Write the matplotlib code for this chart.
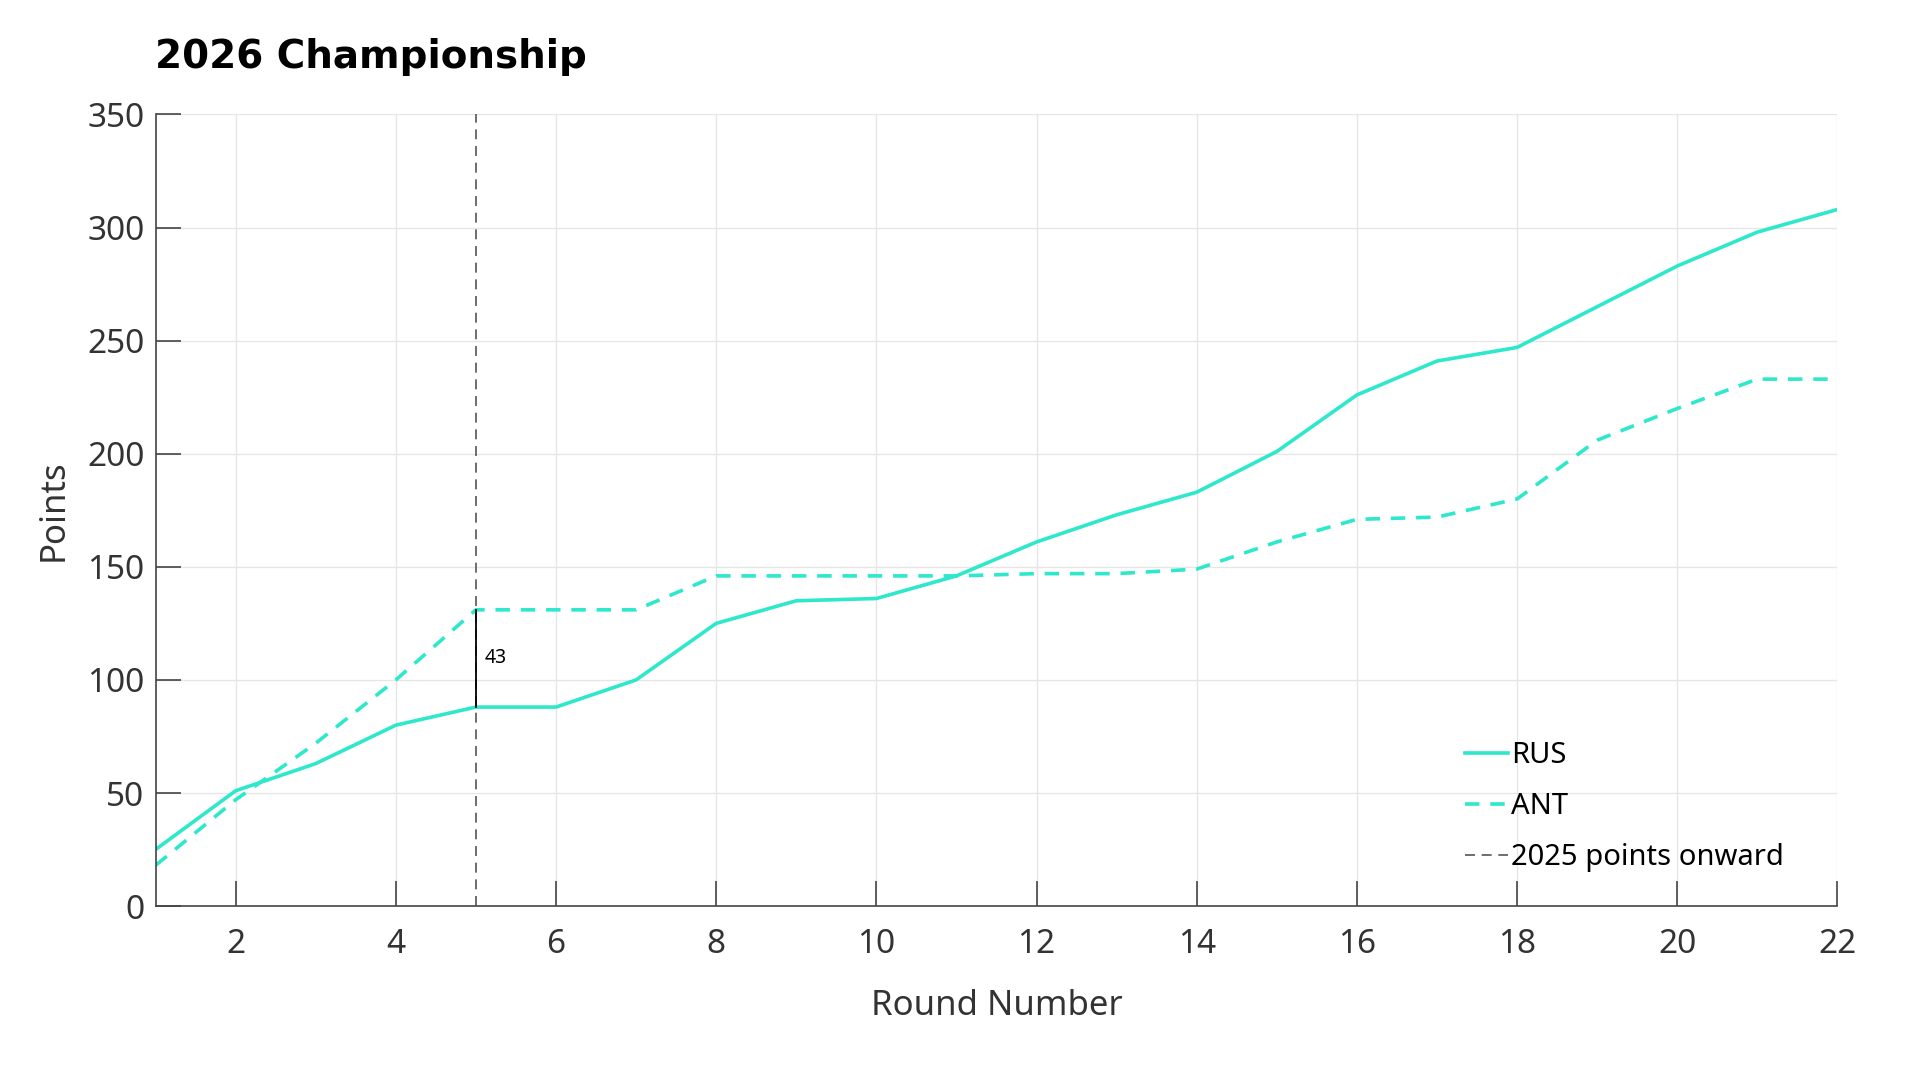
import numpy as np
import matplotlib
matplotlib.use("Agg")
import matplotlib.pyplot as plt

# cumulative points per round
rounds = list(range(1, 23))
rus_points = [25, 51, 63, 80, 88, 88, 100, 125, 135, 136, 146, 161, 173, 183,
              201, 226, 241, 247, 265, 283, 298, 308]
ant_points = [18, 47, 72, 100, 131, 131, 131, 146, 146, 146, 146, 147, 147, 149,
              161, 171, 172, 180, 206, 220, 233, 233]
marker_round = 5
team_color = "#2de8cb"

plt.rcParams['font.family'] = ['Noto Sans', 'DejaVu Sans']

fig = plt.figure(figsize=(19.2, 10.8), dpi=100)
ax = fig.add_axes([0.081, 0.161, 0.876, 0.733])

ax.plot(rounds, rus_points, color=team_color, lw=2.6, label="RUS")
ax.plot(rounds, ant_points, color=team_color, lw=2.6, ls=(0, (4, 3)), label="ANT")
ax.axvline(marker_round, color="#555555", lw=1.2, ls=(0, (6, 4)), label="2025 points onward")

# gap at the marker round
i = rounds.index(marker_round)
lo, hi = sorted([rus_points[i], ant_points[i]])
ax.plot([marker_round, marker_round], [lo, hi], color="black", lw=1.3)
ax.text(marker_round + 0.11, (lo + hi) / 2, str(hi - lo), fontsize=14, va="center", ha="left")

ax.set_xlim(1, 22)
ax.set_ylim(0, 350)
ax.set_xticks(range(2, 23, 2))
ax.set_yticks(range(0, 351, 50))
ax.grid(True, color="#e6e6e6", lw=1)
ax.set_axisbelow(True)

for s in ["top", "right"]:
    ax.spines[s].set_visible(False)
for s in ["left", "bottom"]:
    ax.spines[s].set_color("#444444")
    ax.spines[s].set_linewidth(1.2)

ax.tick_params(axis="both", direction="in", length=18, width=1.2, color="#444444",
               labelsize=24, labelcolor="#333333")
ax.tick_params(axis="x", pad=16)
ax.tick_params(axis="y", pad=8)

ax.set_xlabel("Round Number", fontsize=25, color="#333333", labelpad=20)
ax.set_ylabel("Points", fontsize=25, color="#333333", labelpad=12)

leg = ax.legend(loc="lower right", bbox_to_anchor=(0.984, 0.01), frameon=False,
                fontsize=21, handlelength=1.5, handletextpad=0.1, labelspacing=0.75)

fig.text(155 / 1920, 1 - 57 / 1080, "2026 Championship", fontsize=28,
         fontweight="bold", family=["DejaVu Sans"], va="center", ha="left")

fig.savefig("out.png", dpi=100, facecolor="white")
